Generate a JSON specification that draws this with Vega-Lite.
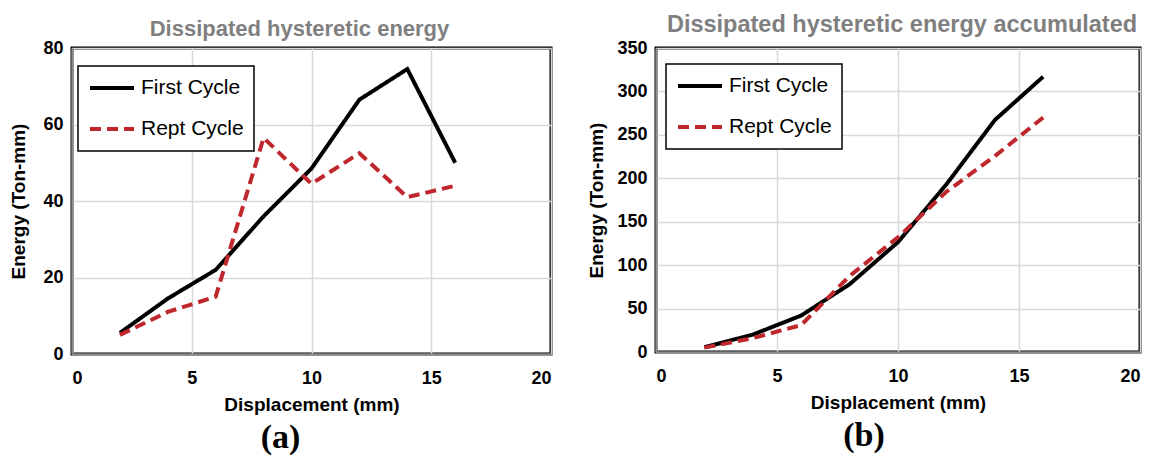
{
  "$schema": "https://vega.github.io/schema/vega-lite/v6.json",
  "background": "white",
  "padding": {"left": 8, "top": 11, "right": 5, "bottom": 5},
  "spacing": 33,
  "datasets": {
    "a": [
      {"disp": 2, "energy": 5.5, "series": "First Cycle"},
      {"disp": 4, "energy": 14.5, "series": "First Cycle"},
      {"disp": 6, "energy": 22, "series": "First Cycle"},
      {"disp": 8, "energy": 36, "series": "First Cycle"},
      {"disp": 10, "energy": 48.5, "series": "First Cycle"},
      {"disp": 12, "energy": 66.5, "series": "First Cycle"},
      {"disp": 14, "energy": 74.5, "series": "First Cycle"},
      {"disp": 16, "energy": 50, "series": "First Cycle"},
      {"disp": 2, "energy": 5, "series": "Rept Cycle"},
      {"disp": 4, "energy": 11, "series": "Rept Cycle"},
      {"disp": 6, "energy": 15, "series": "Rept Cycle"},
      {"disp": 8, "energy": 56.5, "series": "Rept Cycle"},
      {"disp": 10, "energy": 44.5, "series": "Rept Cycle"},
      {"disp": 12, "energy": 52.5, "series": "Rept Cycle"},
      {"disp": 14, "energy": 41, "series": "Rept Cycle"},
      {"disp": 16, "energy": 44, "series": "Rept Cycle"}
    ],
    "b": [
      {"disp": 2, "energy": 5.5, "series": "First Cycle"},
      {"disp": 4, "energy": 20, "series": "First Cycle"},
      {"disp": 6, "energy": 42, "series": "First Cycle"},
      {"disp": 8, "energy": 78, "series": "First Cycle"},
      {"disp": 10, "energy": 126.5, "series": "First Cycle"},
      {"disp": 12, "energy": 193, "series": "First Cycle"},
      {"disp": 14, "energy": 267, "series": "First Cycle"},
      {"disp": 16, "energy": 317, "series": "First Cycle"},
      {"disp": 2, "energy": 5, "series": "Rept Cycle"},
      {"disp": 4, "energy": 16, "series": "Rept Cycle"},
      {"disp": 6, "energy": 31, "series": "Rept Cycle"},
      {"disp": 8, "energy": 87.5, "series": "Rept Cycle"},
      {"disp": 10, "energy": 132, "series": "Rept Cycle"},
      {"disp": 12, "energy": 184.5, "series": "Rept Cycle"},
      {"disp": 14, "energy": 225.5, "series": "Rept Cycle"},
      {"disp": 16, "energy": 270, "series": "Rept Cycle"}
    ]
  },
  "config": {
    "view": {"stroke": "#000000", "strokeWidth": 3},
    "axis": {
      "labelFont": "Liberation Sans",
      "labelFontSize": 18,
      "labelFontWeight": "bold",
      "labelColor": "#000000",
      "titleFont": "Liberation Sans",
      "titleFontSize": 19,
      "titleFontWeight": "bold",
      "titleColor": "#000000",
      "gridColor": "#d9d9d9",
      "gridWidth": 1.5,
      "ticks": false,
      "domainColor": "#8c8c8c",
      "domainWidth": 2
    },
    "title": {
      "font": "Liberation Sans",
      "fontSize": 22,
      "fontWeight": "bold",
      "color": "#7f7f7f"
    },
    "legend": {
      "labelFont": "Liberation Sans",
      "labelFontSize": 21,
      "labelColor": "#000000",
      "labelLimit": 300,
      "symbolType": "stroke",
      "symbolSize": 1936,
      "symbolStrokeWidth": 4,
      "clipHeight": 24,
      "rowPadding": 17,
      "padding": 10,
      "labelOffset": 5,
      "strokeColor": "#000000",
      "strokeWidth": 1.5,
      "fillColor": "white"
    }
  },
  "hconcat": [
    {
      "title": {"text": "(a)", "orient": "bottom", "anchor": "middle", "font": "Liberation Serif", "fontSize": 34, "color": "#000000", "fontWeight": "bold", "offset": 5},
      "vconcat": [
        {
          "title": {"text": "Dissipated hysteretic energy", "offset": -2, "dx": -12},
          "width": 479,
          "height": 306,
          "data": {"name": "a"},
          "mark": {"type": "line", "strokeWidth": 4},
          "encoding": {
            "x": {"field": "disp", "type": "quantitative", "title": "Displacement (mm)",
                  "scale": {"domain": [0, 20], "nice": false},
                  "axis": {"values": [0, 5, 10, 15, 20], "labelPadding": 15, "titlePadding": 8}},
            "y": {"field": "energy", "type": "quantitative", "title": "Energy (Ton-mm)",
                  "scale": {"domain": [0, 80], "nice": false},
                  "axis": {"values": [0, 20, 40, 60, 80], "labelPadding": 9, "titlePadding": 14}},
            "color": {"field": "series", "type": "nominal",
                      "scale": {"domain": ["First Cycle", "Rept Cycle"], "range": ["#000000", "#c0272d"]},
                      "legend": {"title": null, "orient": "none", "legendX": 6, "legendY": 18}},
            "strokeDash": {"field": "series", "type": "nominal",
                      "scale": {"domain": ["First Cycle", "Rept Cycle"], "range": [[1, 0], [11, 6]]},
                      "legend": {"title": null, "orient": "none", "legendX": 6, "legendY": 18}}
          }
        }
      ]
    },
    {
      "title": {"text": "(b)", "orient": "bottom", "anchor": "middle", "font": "Liberation Serif", "fontSize": 34, "color": "#000000", "fontWeight": "bold", "offset": 5},
      "vconcat": [
        {
          "title": {"text": "Dissipated hysteretic energy accumulated", "offset": 3, "fontSize": 23.5, "dx": 4},
          "width": 484,
          "height": 304,
          "data": {"name": "b"},
          "mark": {"type": "line", "strokeWidth": 4},
          "encoding": {
            "x": {"field": "disp", "type": "quantitative", "title": "Displacement (mm)",
                  "scale": {"domain": [0, 20], "nice": false},
                  "axis": {"values": [0, 5, 10, 15, 20], "labelPadding": 15, "titlePadding": 8}},
            "y": {"field": "energy", "type": "quantitative", "title": "Energy (Ton-mm)",
                  "scale": {"domain": [0, 350], "nice": false},
                  "axis": {"values": [0, 50, 100, 150, 200, 250, 300, 350], "labelPadding": 9, "titlePadding": 10}},
            "color": {"field": "series", "type": "nominal",
                      "scale": {"domain": ["First Cycle", "Rept Cycle"], "range": ["#000000", "#c0272d"]},
                      "legend": {"title": null, "orient": "none", "legendX": 10, "legendY": 16}},
            "strokeDash": {"field": "series", "type": "nominal",
                      "scale": {"domain": ["First Cycle", "Rept Cycle"], "range": [[1, 0], [11, 6]]},
                      "legend": {"title": null, "orient": "none", "legendX": 10, "legendY": 16}}
          }
        }
      ]
    }
  ],
  "resolve": {
    "scale": {"color": "independent", "strokeDash": "independent"},
    "legend": {"color": "independent", "strokeDash": "independent"}
  }
}
